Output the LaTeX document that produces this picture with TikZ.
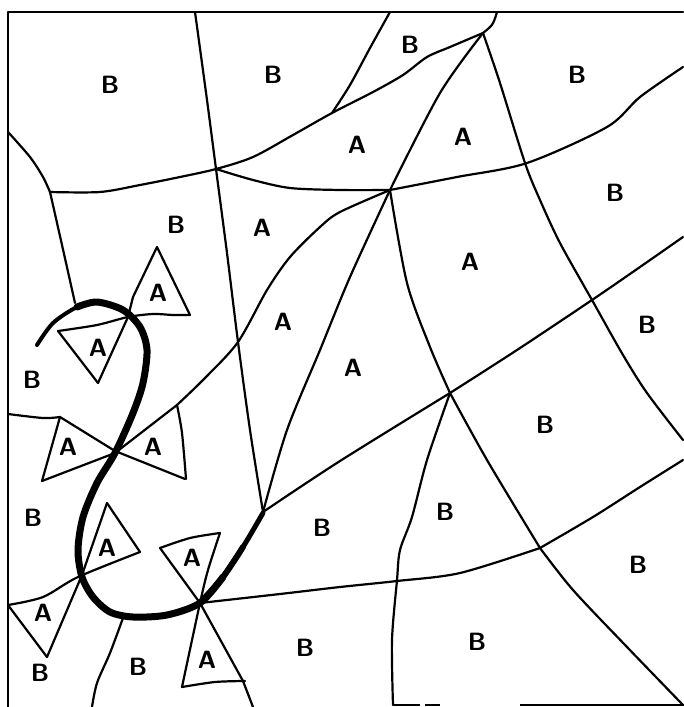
\documentclass[tikz,border=0pt]{standalone}
\begin{document}
\begin{tikzpicture}[x=1pt,y=-1pt,
  ln/.style={line width=2.2pt,line cap=round,line join=round},
  thk/.style={line width=7pt,line cap=round,line join=round},
  lbl/.style={font=\sffamily\bfseries\fontsize{25}{25}\selectfont,inner sep=0pt}]
\useasboundingbox (0,0) rectangle (683,707);
% frame
\draw[ln] (683,12) -- (8,12) -- (8,707);
\draw[line width=1.4pt] (393,705) -- (420,705) (425,705) -- (440,705) (520,705) -- (683,705);
% L1 and spurs
\draw[ln] plot[smooth] coordinates {(8,132) (30,157) (43,177) (50,192)};
\draw[ln] plot[smooth] coordinates {(50,192) (100,192) (140,185) (180,177) (216,169) (253,157) (293,135) (332,113) (373,92) (403,75) (427,57) (450,47) (483,33)};
\draw[ln] (483,33) .. controls (493,25) .. (497,12);
\draw[ln] plot[smooth] coordinates {(332,113) (350,85) (370,48) (390,12)};
\draw[ln] plot[smooth] coordinates {(50,192) (62,245) (75,303)};
% V1
\draw[ln] plot[smooth] coordinates {(195,12) (207,100) (216,169) (227,253) (238,342) (250,430) (263,512)};
% L2
\draw[ln] plot[smooth] coordinates {(216,169) (253,180) (290,188) (340,190) (390,190)};
\draw[ln] plot[smooth] coordinates {(390,190) (457,177) (527,163) (607,127) (640,97) (683,67)};
% V2
\draw[ln] plot[smooth] coordinates {(483,33) (500,83) (525,163) (540,200) (560,243) (592,300) (623,355) (647,393) (683,440)};
% L6
\draw[ln] plot[smooth] coordinates {(483,33) (440,93) (390,190)};
\draw[ln] plot[smooth] coordinates {(390,190) (350,277) (320,350) (287,430) (263,512)};
% L3
\draw[ln] plot[smooth] coordinates {(390,190) (340,212) (320,227) (290,257) (267,290) (238,342) (205,378) (177,405)};
\draw[ln] (177,405) -- (115,453) -- (42,481);
% V3
\draw[ln] plot[smooth] coordinates {(390,190) (407,283) (430,347) (450,393)};
\draw[ln] plot[smooth] coordinates {(450,393) (487,460) (540,548)};
\draw[ln] plot[smooth] coordinates {(540,548) (573,590) (627,647) (683,705)};
% L7
\draw[ln] plot[smooth] coordinates {(263,512) (340,461) (450,393)};
\draw[ln] plot[smooth] coordinates {(450,393) (517,350) (592,300) (640,267) (683,237)};
% L8
\draw[ln] plot[smooth] coordinates {(450,393) (427,460) (412,517) (400,550) (397,580) (392,640) (393,705)};
% L5
\draw[ln] plot[smooth] coordinates {(200,603) (280,594) (340,587) (397,581) (460,573) (540,548)};
\draw[ln] plot[smooth] coordinates {(540,548) (593,517) (640,487) (683,460)};
% line to bottom
\draw[ln] plot[smooth] coordinates {(123,618) (110,653) (97,683) (92,707)};
% upper bowtie
\draw[ln] plot[smooth] coordinates {(58,331) (97,325) (128,317) (153,314) (173,315) (190,315)};
\draw[ln] (157,247) -- (133,297) -- (128,317) -- (98,383);
\draw[ln] (157,247) -- (190,315);
\draw[ln] (58,331) -- (98,383);
% middle bowtie
\draw[ln] plot[smooth] coordinates {(8,414) (43,418) (60,417)};
\draw[ln] (60,417) -- (115,451) -- (185,479);
\draw[ln] (60,417) -- (42,481);
\draw[ln] plot[smooth] coordinates {(177,405) (182,433) (186,479)};
% lower-left bowtie
\draw[ln] plot[smooth] coordinates {(8,605) (43,597) (78,577) (140,552)};
\draw[ln] (107,503) -- (82,575) -- (47,657);
\draw[ln] (107,503) -- (140,552);
\draw[ln] (8,605) -- (47,657);
% lower bowtie
\draw[ln] (160,548) -- (200,603) -- (243,681) -- (253,707);
\draw[ln] plot[smooth] coordinates {(220,533) (208,570) (200,603) (182,687)};
\draw[ln] plot[smooth] coordinates {(160,548) (190,538) (220,533)};
\draw[ln] plot[smooth] coordinates {(182,687) (215,682) (245,681)};
% thick S curve
\draw[line width=4pt,line cap=round] plot[smooth] coordinates {(37,345) (53,323) (77,307) (97,302) (123,310)};
\draw[thk] plot[smooth] coordinates {(77,307) (97,302) (123,310) (140,327) (147,350) (143,383) (133,413) (115,453) (97,483) (83,517) (78,550) (82,577) (93,597) (110,612) (133,617) (167,615) (200,603) (223,577)};
\draw[line width=6pt,line cap=round] plot[smooth] coordinates {(200,603) (223,577) (243,547)};
\draw[line width=5pt,line cap=round] plot[smooth] coordinates {(223,577) (243,547) (263,513)};
% labels
\node[lbl] (b1) at (110,85) {B};
\node[lbl] (b2) at (273,75) {B};
\node[lbl] (b3) at (410,45) {B};
\node[lbl] (b4) at (577,75) {B};
\node[lbl] (a1) at (357,145) {A};
\node[lbl] (a2) at (463,137) {A};
\node[lbl] (b5) at (615,193) {B};
\node[lbl] (b6) at (176,225) {B};
\node[lbl] (a3) at (262,228) {A};
\node[lbl] (a4) at (158,293) {A};
\node[lbl] (a5) at (470,262) {A};
\node[lbl] (a6) at (283,322) {A};
\node[lbl] (b7) at (647,325) {B};
\node[lbl] (a7) at (98,348) {A};
\node[lbl] (a8) at (353,368) {A};
\node[lbl] (b8) at (32,380) {B};
\node[lbl] (b9) at (545,425) {B};
\node[lbl] (a9) at (68,447) {A};
\node[lbl] (a10) at (153,447) {A};
\node[lbl] (b10) at (33,518) {B};
\node[lbl] (a11) at (107,548) {A};
\node[lbl] (b11) at (322,528) {B};
\node[lbl] (b12) at (445,512) {B};
\node[lbl] (a12) at (192,558) {A};
\node[lbl] (b13) at (638,565) {B};
\node[lbl] (a13) at (43,613) {A};
\node[lbl] (b14) at (40,673) {B};
\node[lbl] (b15) at (138,667) {B};
\node[lbl] (a14) at (207,660) {A};
\node[lbl] (b16) at (305,648) {B};
\node[lbl] (b17) at (477,642) {B};
\end{tikzpicture}
\end{document}
